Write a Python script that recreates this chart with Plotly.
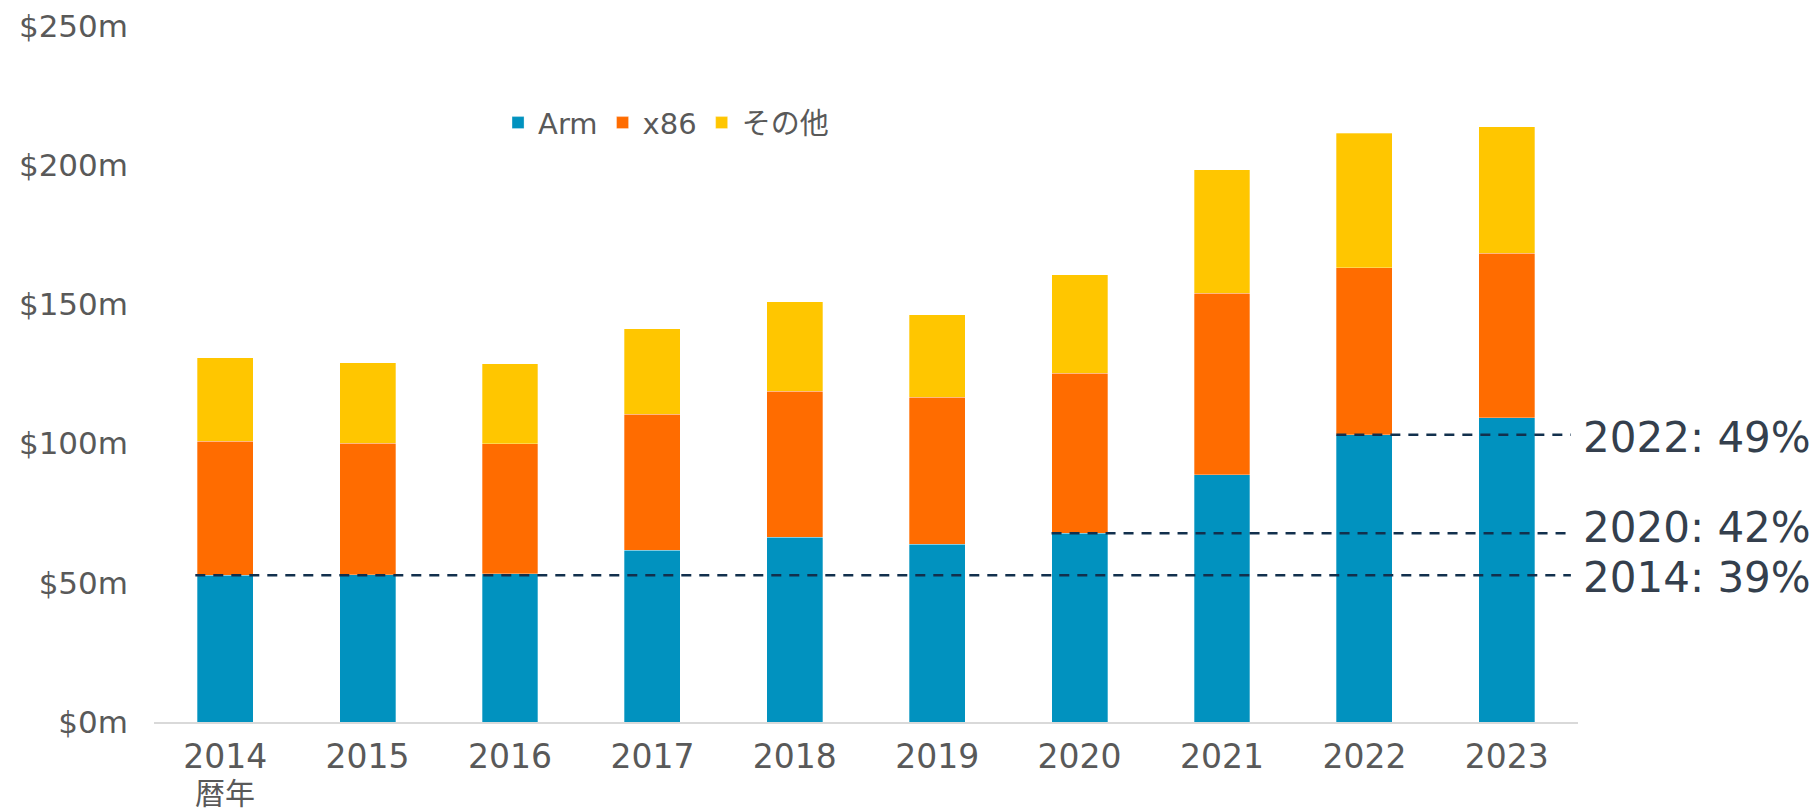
import plotly.graph_objects as go

years = ["2014", "2015", "2016", "2017", "2018", "2019", "2020", "2021", "2022", "2023"]
arm = [52.7, 52.9, 53.3, 61.7, 66.4, 63.8, 67.8, 88.9, 103.2, 109.3]
x86 = [48.2, 47.2, 46.7, 48.8, 52.4, 52.8, 57.4, 65.1, 59.9, 59.0]
other = [29.9, 28.9, 28.7, 30.7, 32.1, 29.6, 35.4, 44.3, 48.4, 45.6]

series_names = ["Arm", "x86", "その他"]
series_colors = ["#0192bf", "#ff6c00", "#ffc600"]

y_ticks = [0, 50, 100, 150, 200, 250]
y_tick_labels = ["$0m", "$50m", "$100m", "$150m", "$200m", "$250m"]

x_title = "暦年"

# reference lines: year, label, start offset (category units), text y shift (px)
ref_years = ["2014", "2020", "2022"]
ref_labels = ["2014: 39%", "2020: 42%", "2022: 49%"]
ref_start = [-0.21, -0.197, -0.197]
ref_text_shift = [-2, 6, -3]

FONT = "DejaVu Sans, Noto Sans CJK JP, sans-serif"

fig = go.Figure()
for name, vals, col in zip(series_names, [arm, x86, other], series_colors):
    fig.add_trace(go.Bar(
        x=years, y=vals, name=name,
        marker=dict(color=col, line=dict(width=0.5, color="rgba(255,255,255,0.6)")),
    ))

shapes = []
annotations = []
for yr, lab, st, sh in zip(ref_years, ref_labels, ref_start, ref_text_shift):
    idx = years.index(yr)
    yv = arm[idx]
    shapes.append(dict(
        type="line", xref="x", yref="y",
        x0=idx + st, x1=len(years) - 0.55, y0=yv, y1=yv,
        line=dict(color="#12304d", width=2.5, dash="10px,8px"),
        layer="above",
    ))
    annotations.append(dict(
        xref="paper", yref="y", x=1, y=yv, xanchor="left", yanchor="middle",
        xshift=3, yshift=sh, text=lab, showarrow=False,
        font=dict(family=FONT, size=42, color="#343f4d"),
    ))

annotations.append(dict(
    xref="x", yref="paper", x=0, y=0, xanchor="center", yanchor="top",
    yshift=-52, text=x_title, showarrow=False,
    font=dict(family=FONT, size=30, color="#595959"),
))

fig.update_layout(
    width=1820, height=810,
    margin=dict(l=146, r=250, t=18, b=96, autoexpand=False),
    paper_bgcolor="white", plot_bgcolor="white",
    barmode="stack", bargap=0.607,
    font=dict(family=FONT, color="#595959"),
    showlegend=True,
    legend=dict(
        orientation="h", x=0.2416, y=0.861, xanchor="left", yanchor="middle",
        font=dict(family=FONT, size=29, color="#595959"),
        bgcolor="rgba(0,0,0,0)", itemwidth=30, traceorder="normal",
    ),
    shapes=shapes,
    annotations=annotations,
)
fig.update_xaxes(
    type="category", showgrid=False, showline=True, linecolor="#d9d9d9", linewidth=1.5,
    ticks="", tickfont=dict(family=FONT, size=33, color="#595959"),
    ticklabelstandoff=5, range=[-0.5, len(years) - 0.5], automargin=False,
)
fig.update_yaxes(
    range=[0, 250], tickvals=y_ticks, ticktext=y_tick_labels,
    showgrid=False, showline=False, zeroline=False, ticks="",
    tickfont=dict(family=FONT, size=31, color="#595959"),
    ticklabelstandoff=25, automargin=False, ticklabeloverflow="allow",
)

fig.write_html("out.html")
